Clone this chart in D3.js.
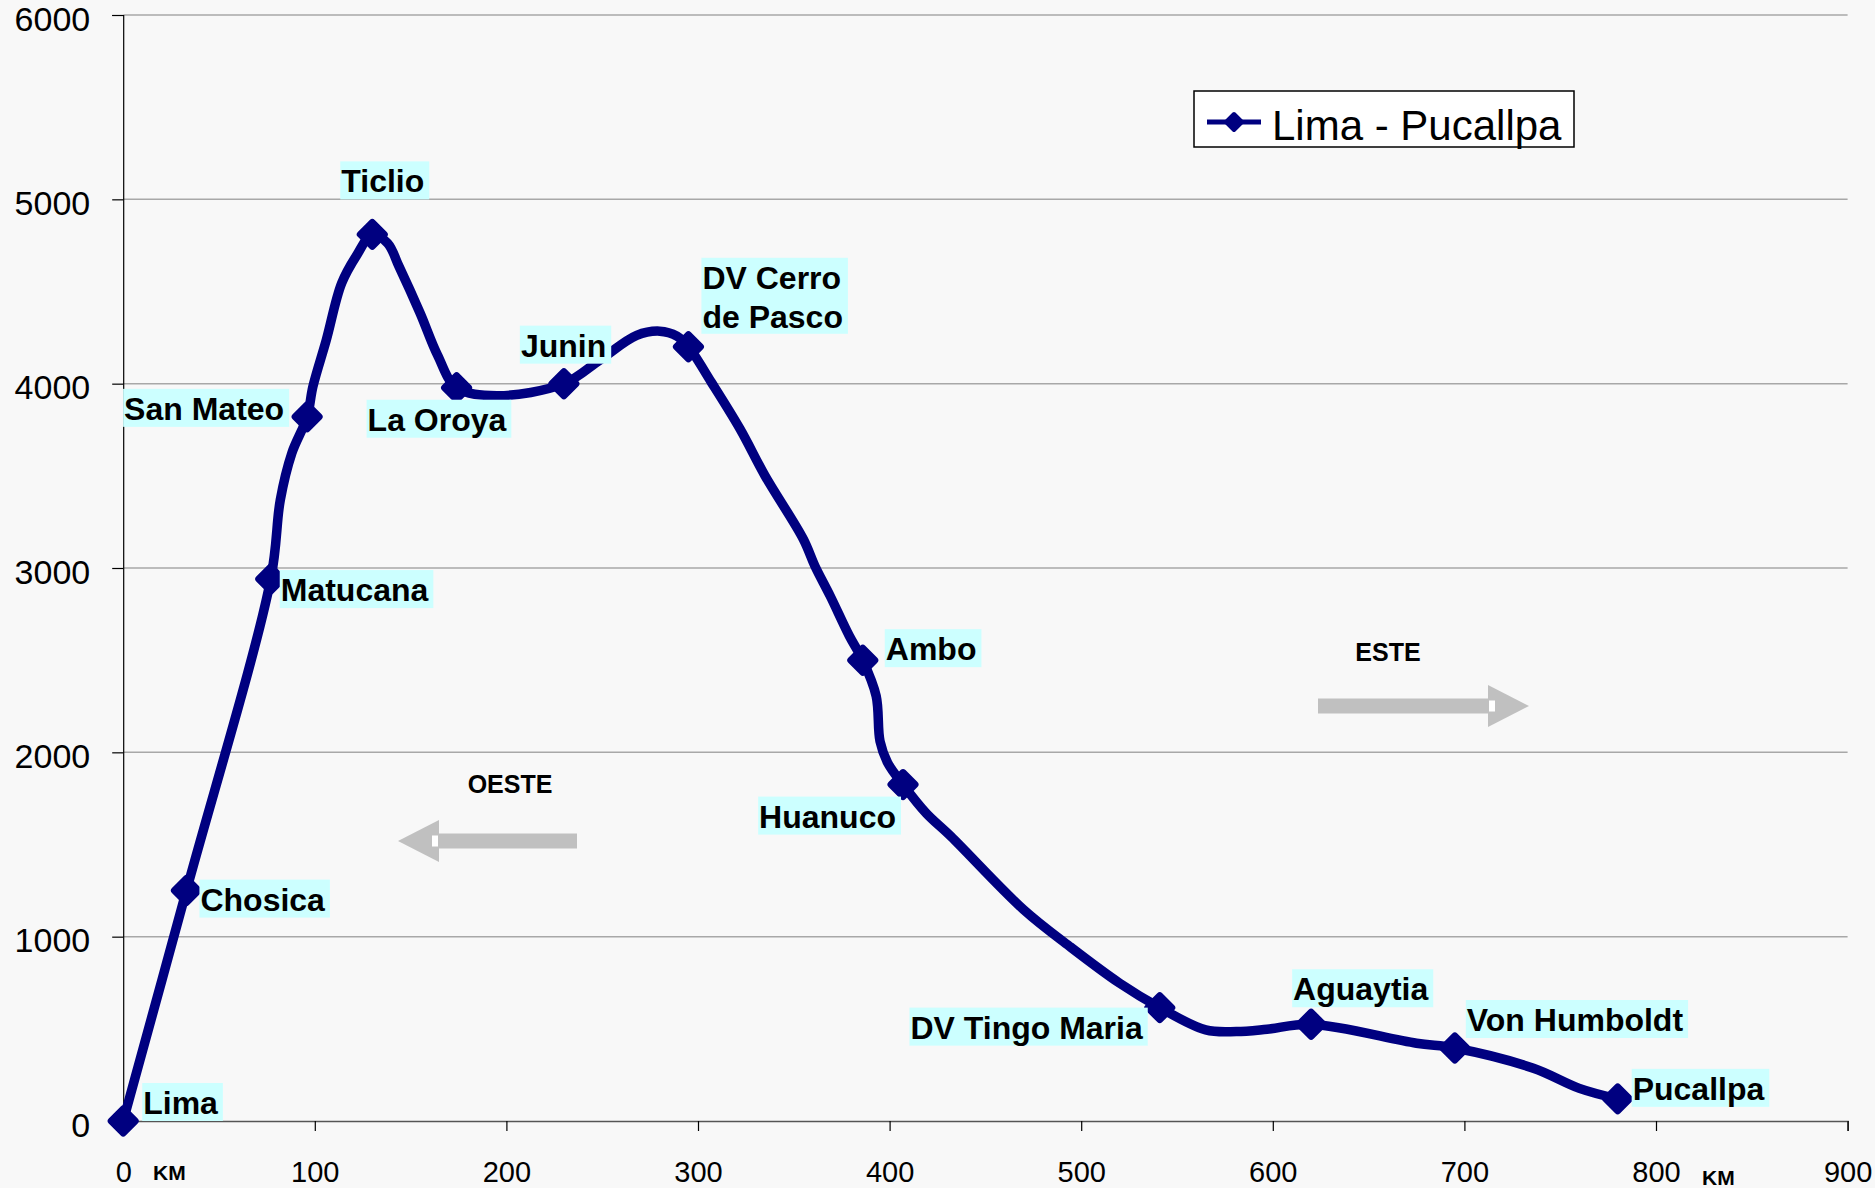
<!DOCTYPE html>
<html>
<head>
<meta charset="utf-8">
<title>Lima - Pucallpa</title>
<script src="https://cdn.jsdelivr.net/npm/d3@7"></script>
<style>
  html, body { margin: 0; padding: 0; background: #f8f8f8; }
  svg { display: block; font-family: "Liberation Sans", Arial, sans-serif; }
</style>
</head>
<body>
<div id="graph-container"><svg></svg></div>
<script>
// Road profile Lima - Pucallpa: distance (km) and altitude (m).
// Points with an empty name only shape the smoothed line (no marker, no label).
const km = [
  0, 33, 77, 82, 88, 96, 99, 106, 114, 122, 130, 138, 144, 155, 164, 174,
  195, 230, 249, 268, 280, 289, 295, 307, 322, 335, 355, 361, 369, 379, 386,
  393, 395, 399, 407, 419, 432, 470, 494, 520, 541, 565, 581, 597, 620, 675,
  695, 736, 760, 780
];
const altitude = [
  0, 1250, 2940, 3370, 3623, 3820, 3984, 4237, 4545, 4699, 4810, 4762, 4635, 4382, 4156, 3978,
  3935, 4000, 4130, 4262, 4285, 4258, 4200, 4007, 3753, 3500, 3156, 3011, 2848, 2631, 2500,
  2305, 2060, 1943, 1825, 1671, 1544, 1146, 947, 748, 615, 494, 485, 498, 525, 422,
  396, 286, 177, 120
];
const places = [
  'Lima', 'Chosica', 'Matucana', '', '', 'San Mateo', '', '', '', '', 'Ticlio', '', '', '', '', 'La Oroya',
  '', 'Junin', '', '', '', '', 'DV Cerro de Pasco', '', '', '', '', '', '', '', 'Ambo',
  '', '', '', 'Huanuco', '', '', '', '', '', 'DV Tingo Maria', '', '', '', 'Aguaytia', '',
  'Von Humboldt', '', '', 'Pucallpa'
];

const xTicks = [0, 100, 200, 300, 400, 500, 600, 700, 800, 900];
const yTicks = [0, 1000, 2000, 3000, 4000, 5000, 6000];
const seriesName = 'Lima - Pucallpa';
const unitLabel = 'KM';

// Label placement (box corner relative to the marker, in px).
const labelLayout = {
  'Lima': { dx: 19, dy: -38 },
  'Chosica': { dx: 13, dy: -11 },
  'Matucana': { dx: 9, dy: -9 },
  'San Mateo': { dx: -18, dy: -28, anchor: 'end' },
  'Ticlio': { dx: -32, dy: -73 },
  'La Oroya': { dx: -90, dy: 12 },
  'Junin': { dx: -44, dy: -58 },
  'DV Cerro de Pasco': { dx: 13, dy: -89, lines: ['DV Cerro', 'de Pasco'] },
  'Ambo': { dx: 22, dy: -31 },
  'Huanuco': { dx: -2, dy: 12, anchor: 'end' },
  'DV Tingo Maria': { dx: -12, dy: 0, anchor: 'end' },
  'Aguaytia': { dx: -19, dy: -55 },
  'Von Humboldt': { dx: 11, dy: -48 },
  'Pucallpa': { dx: 14, dy: -30 },
};

const dataset = km.map((d, i) => ({ km: d, alt: altitude[i], name: places[i] }));

const width = 1875, height = 1188;
const navy = '#000080';

const svg = d3.select('#graph-container').select('svg')
  .attr('width', width)
  .attr('height', height);

svg.append('rect')
  .attr('width', width)
  .attr('height', height)
  .attr('fill', '#f8f8f8');

// Scales.
const xScale = d3.scaleLinear().domain([0, 900]).range([123.2, 1847.6]);
const yScale = d3.scaleLinear().domain([0, 6000]).range([1121, 15]);

// Grid lines.
svg.append('g')
  .selectAll('line')
  .data(yTicks.filter(t => t > 0))
  .join('line')
  .attr('x1', xScale(0))
  .attr('x2', xScale(900))
  .attr('y1', d => yScale(d))
  .attr('y2', d => yScale(d))
  .attr('stroke', '#a8a8a8')
  .attr('stroke-width', 1.5);

// Y-Axis.
const yAxis = svg.append('g')
  .attr('transform', `translate(${xScale(0)},0)`)
  .call(d3.axisLeft(yScale).tickValues(yTicks).tickSize(11).tickPadding(22).tickFormat(d3.format('d')));
yAxis.select('.domain').attr('stroke', '#000').attr('stroke-width', 1.2);
yAxis.selectAll('.tick line').attr('stroke', '#000').attr('stroke-width', 1.2);
yAxis.selectAll('.tick text')
  .attr('font-size', 34)
  .attr('font-family', '"Liberation Sans", Arial, sans-serif')
  .attr('fill', '#000')
  .attr('dy', '0.45em');

// X-Axis.
const xAxis = svg.append('g')
  .attr('transform', `translate(0,${yScale(0)})`)
  .call(d3.axisBottom(xScale).tickValues(xTicks).tickSize(10).tickFormat(d3.format('d')));
xAxis.select('.domain').attr('stroke', '#555').attr('stroke-width', 1.6);
xAxis.selectAll('.tick line').attr('stroke', '#000').attr('stroke-width', 1.2);
xAxis.selectAll('.tick text')
  .attr('font-size', 29)
  .attr('font-family', '"Liberation Sans", Arial, sans-serif')
  .attr('fill', '#000')
  .attr('y', 61)
  .attr('dy', 0);

// Unit labels next to 0 and 800.
[[153, 1180], [1702, 1185]].forEach(([x, y]) => {
  svg.append('text')
    .attr('x', x)
    .attr('y', y)
    .attr('font-size', 21)
    .attr('font-weight', 'bold')
    .text(unitLabel);
});

// Direction arrows.
const arrowColor = '#c0c0c0';
const drawArrow = (x1, x2, y, dir) => {
  // x1: tail end of shaft, x2: tip.
  const base = x2 - dir * 41;
  svg.append('rect')
    .attr('x', Math.min(x1, base))
    .attr('y', y - 7.5)
    .attr('width', Math.abs(base - x1))
    .attr('height', 15)
    .attr('fill', arrowColor);
  svg.append('path')
    .attr('d', `M${base},${y - 21}L${x2},${y}L${base},${y + 21}Z`)
    .attr('fill', arrowColor);
  svg.append('rect')
    .attr('x', dir > 0 ? base + 1 : base - 7)
    .attr('y', y - 5.5)
    .attr('width', 6)
    .attr('height', 11)
    .attr('fill', '#fff');
};
drawArrow(1318, 1529, 706, 1);
drawArrow(577, 398, 841, -1);

svg.append('text')
  .attr('x', 1388).attr('y', 661)
  .attr('text-anchor', 'middle')
  .attr('font-size', 25).attr('font-weight', 'bold')
  .text('ESTE');
svg.append('text')
  .attr('x', 510).attr('y', 793)
  .attr('text-anchor', 'middle')
  .attr('font-size', 25).attr('font-weight', 'bold')
  .text('OESTE');

// Line.
svg.append('path')
  .datum(dataset)
  .attr('fill', 'none')
  .attr('stroke', navy)
  .attr('stroke-width', 9.5)
  .attr('stroke-linejoin', 'round')
  .attr('stroke-linecap', 'round')
  .attr('d', d3.line()
    .x(d => xScale(d.km))
    .y(d => yScale(d.alt))
    .curve(d3.curveCatmullRom.alpha(0.5)));

// Markers.
const diamond = 'M0,-12L12,0L0,12L-12,0Z';
const named = dataset.filter(d => d.name);

svg.append('g')
  .selectAll('path')
  .data(named)
  .join('path')
  .attr('d', diamond)
  .attr('transform', d => `translate(${xScale(d.km)},${yScale(d.alt)})`)
  .attr('fill', navy)
  .attr('stroke', navy)
  .attr('stroke-width', 7)
  .attr('stroke-linejoin', 'round');

// Data labels.
named.forEach(d => {
  const layout = labelLayout[d.name] || { dx: 10, dy: -20 };
  const lines = layout.lines || [d.name];
  const g = svg.append('g')
    .attr('transform', `translate(${xScale(d.km) + layout.dx},${yScale(d.alt) + layout.dy})`);
  const box = g.append('rect').attr('fill', '#ccffff');
  const texts = lines.map((line, i) => g.append('text')
    .attr('y', 31 + i * 39)
    .attr('font-size', 32)
    .attr('font-weight', 'bold')
    .attr('fill', '#000')
    .text(line));
  const textWidth = d3.max(texts, t => t.node().getComputedTextLength());
  const boxWidth = textWidth + 6;
  if (layout.anchor === 'end') {
    box.attr('x', -boxWidth);
    texts.forEach(t => t.attr('x', -boxWidth + 1));
  } else {
    box.attr('x', 0);
    texts.forEach(t => t.attr('x', 1));
  }
  box.attr('y', 0).attr('width', boxWidth).attr('height', 38 * lines.length);
});

// Legend.
const legend = svg.append('g').attr('transform', 'translate(1194,91)');
legend.append('rect')
  .attr('width', 380)
  .attr('height', 56)
  .attr('fill', '#fff')
  .attr('stroke', '#000')
  .attr('stroke-width', 1.5);
legend.append('line')
  .attr('x1', 13).attr('x2', 67)
  .attr('y1', 31).attr('y2', 31)
  .attr('stroke', navy)
  .attr('stroke-width', 5);
legend.append('path')
  .attr('d', 'M0,-8L8,0L0,8L-8,0Z')
  .attr('transform', 'translate(40,31)')
  .attr('fill', navy)
  .attr('stroke', navy)
  .attr('stroke-width', 4)
  .attr('stroke-linejoin', 'round');
legend.append('text')
  .attr('x', 78)
  .attr('y', 49)
  .attr('font-size', 42)
  .attr('fill', '#000')
  .text(seriesName);
</script>
</body>
</html>
